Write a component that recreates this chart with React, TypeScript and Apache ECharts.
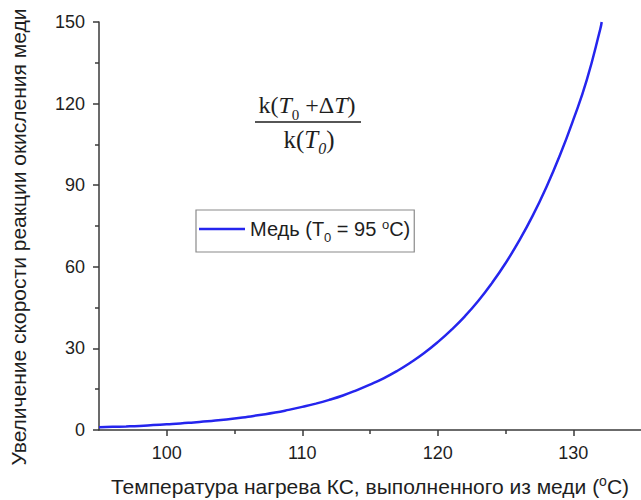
import React, { useEffect, useRef } from "react";
import * as echarts from "echarts";

const temperatures = [
  95, 96, 97, 98, 99, 100, 101, 102, 103, 104, 105, 106, 107, 108, 109, 110,
  111, 112, 113, 114, 115, 116, 117, 118, 119, 120, 121, 122, 123, 124, 125,
  126, 127, 128, 129, 130, 131, 132, 132.1,
];
const rateIncrease = [
  1.0, 1.15, 1.3, 1.5, 1.8, 2.1, 2.4, 2.8, 3.2, 3.7, 4.2, 4.9, 5.6, 6.4, 7.4,
  8.5, 9.7, 11.1, 12.7, 14.6, 16.7, 19.0, 21.7, 24.8, 28.3, 32.3, 36.8, 41.8,
  47.5, 54.0, 61.3, 69.5, 78.7, 89.1, 100.8, 114.0, 128.7, 147.5, 150,
];
const xMajorTicks = [100, 110, 120, 130];
const xMinorTicks = [105, 115, 125];
const seriesName = "Медь (T0 = 95 °C)";
const xTitle = "Температура нагрева КС, выполненного из меди (";
const yTitle = "Увеличение скорости реакции окисления меди";

const FONT = "'Liberation Sans', Arial, sans-serif";
const SERIF = "'Liberation Serif', 'Times New Roman', serif";
const AXIS = "#3a3a3a";
const TEXT = "#1e1e1e";
const BLUE = "#2525ee";

export default function App() {
  const ref = useRef<HTMLDivElement>(null);
  useEffect(() => {
    if (!ref.current) return;
    const chart = echarts.init(ref.current, undefined, { renderer: "svg" });
    const data = temperatures.map((t, i) => [t, rateIncrease[i]]);
    chart.setOption({
      animation: false,
      grid: { left: 99, right: -2, top: 22, bottom: 70, containLabel: false },
      xAxis: [
        {
          type: "value",
          min: 95,
          max: 135,
          axisLine: { show: true, lineStyle: { color: AXIS, width: 1.5 } },
          axisTick: {
            show: true,
            length: 6,
            customValues: xMajorTicks,
            lineStyle: { color: AXIS, width: 1.5 },
          },
          axisLabel: {
            customValues: xMajorTicks,
            margin: 14,
            fontSize: 18,
            fontFamily: FONT,
            color: TEXT,
          },
          splitLine: { show: false },
        },
        {
          type: "value",
          min: 95,
          max: 135,
          position: "bottom",
          axisLine: { show: false },
          axisTick: {
            show: true,
            length: 4,
            customValues: xMinorTicks,
            lineStyle: { color: AXIS, width: 1.5 },
          },
          axisLabel: { show: false },
          splitLine: { show: false },
        },
      ],
      yAxis: {
        type: "value",
        min: 0,
        max: 150,
        interval: 30,
        axisLine: { show: true, lineStyle: { color: AXIS, width: 1.5 } },
        axisTick: { show: true, length: 6, lineStyle: { color: AXIS, width: 1.5 } },
        minorTick: { show: true, splitNumber: 2, length: 4, lineStyle: { color: AXIS, width: 1.5 } },
        axisLabel: { margin: 14, fontSize: 18, fontFamily: FONT, color: TEXT },
        splitLine: { show: false },
      },
      legend: {
        left: 196,
        top: 210,
        orient: "vertical",
        borderColor: "#8a8a8a",
        borderWidth: 1.2,
        padding: [8, 4, 8, 3],
        itemWidth: 46,
        itemHeight: 2.5,
        data: [{ name: seriesName, icon: "rect", itemStyle: { color: BLUE } }],
        formatter: () => "{a|Медь (T}{sub|0}{a| = 95 }{sup|o}{a|C)}",
        textStyle: {
          fontFamily: FONT,
          fontSize: 20,
          color: TEXT,
          rich: {
            a: { fontFamily: FONT, fontSize: 20, color: TEXT, lineHeight: 22 },
            sub: { fontFamily: FONT, fontSize: 13, color: TEXT, verticalAlign: "bottom", lineHeight: 22, padding: [0, 0, -4, 0] },
            sup: { fontFamily: FONT, fontSize: 13, color: TEXT, verticalAlign: "top", lineHeight: 22, padding: [0, 0, 6, 0] },
          },
        },
      },
      series: [
        {
          name: seriesName,
          type: "line",
          data,
          symbol: "none",
          smooth: true,
          lineStyle: { color: BLUE, width: 2.5 },
          itemStyle: { color: BLUE },
        },
      ],
      graphic: [
        {
          type: "text",
          x: 18,
          y: 237,
          rotation: Math.PI / 2,
          style: {
            text: yTitle,
            fontFamily: FONT,
            fontSize: 21,
            fill: TEXT,
            align: "center",
            verticalAlign: "middle",
          },
        },
        {
          type: "text",
          x: 370,
          y: 486,
          style: {
            text: "{a|" + xTitle + "}{sup|o}{a|C)}",
            fontFamily: FONT,
            fontSize: 21,
            fill: TEXT,
            align: "center",
            verticalAlign: "middle",
            rich: {
              a: { fontFamily: FONT, fontSize: 21, fill: TEXT, lineHeight: 24 },
              sup: { fontFamily: FONT, fontSize: 14, fill: TEXT, verticalAlign: "top", lineHeight: 24 },
            },
          },
        },
        {
          type: "text",
          x: 307,
          y: 105,
          style: {
            text: "{k|k(}{it|T}{sub|0}{k| +Δ}{it|T}{k|)}",
            align: "center",
            verticalAlign: "middle",
            rich: {
              k: { fontFamily: SERIF, fontSize: 24, fill: TEXT, lineHeight: 28 },
              it: { fontFamily: SERIF, fontSize: 24, fontStyle: "italic", fill: TEXT, lineHeight: 28 },
              sub: { fontFamily: SERIF, fontSize: 15, fill: TEXT, verticalAlign: "bottom", lineHeight: 28, padding: [0, 0, -3, 0] },
            },
          },
        },
        {
          type: "line",
          shape: { x1: 255, y1: 122, x2: 361, y2: 122 },
          style: { stroke: TEXT, lineWidth: 1.5 },
        },
        {
          type: "text",
          x: 309,
          y: 139,
          style: {
            text: "{k|k(}{it|T}{sub|0}{k|)}",
            align: "center",
            verticalAlign: "middle",
            rich: {
              k: { fontFamily: SERIF, fontSize: 25, fill: TEXT, lineHeight: 28 },
              it: { fontFamily: SERIF, fontSize: 25, fontStyle: "italic", fill: TEXT, lineHeight: 28 },
              sub: { fontFamily: SERIF, fontSize: 16, fontStyle: "italic", fill: TEXT, verticalAlign: "bottom", lineHeight: 28, padding: [0, 0, -3, 0] },
            },
          },
        },
      ],
    });
    return () => chart.dispose();
  }, []);
  return <div ref={ref} style={{ width: 641, height: 500, position: "absolute", left: 0, top: 0 }} />;
}
